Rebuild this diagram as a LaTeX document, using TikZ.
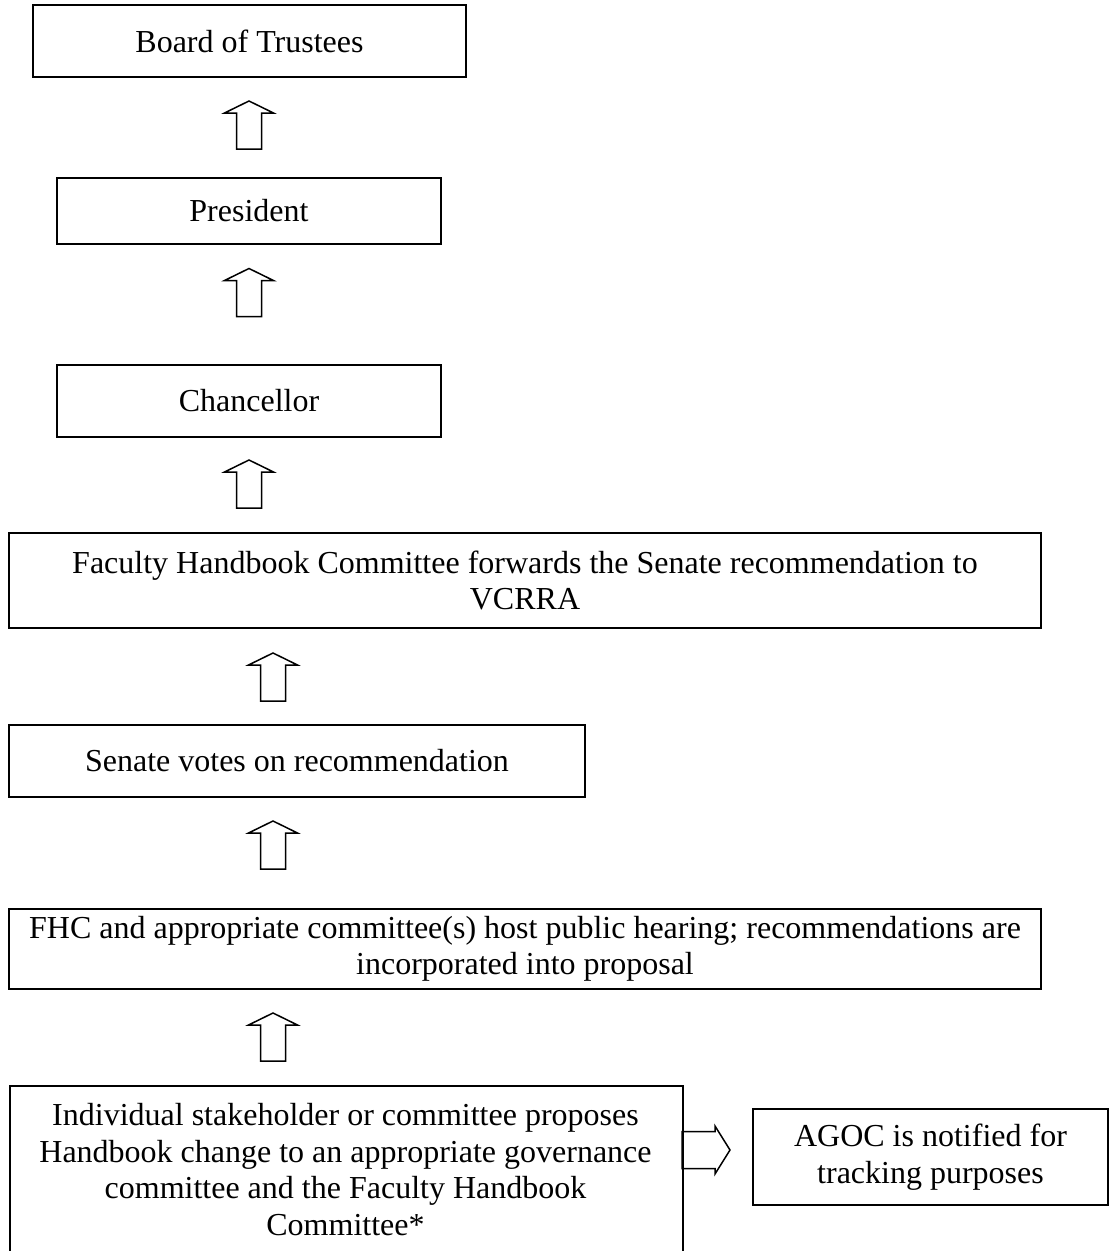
\documentclass[tikz,border=0pt]{standalone}
\usepackage{fontspec}
\setmainfont{Liberation Serif}
\begin{document}
\begin{tikzpicture}[x=1pt,y=-1pt,
  box/.style={draw, line width=1.6pt, inner sep=0pt, align=center,
    font=\fontsize{32}{36.5}\selectfont},
  arrline/.style={draw, line width=1.5pt, line join=miter},
  txt/.style={inner sep=0pt, align=center, font=\fontsize{32}{36.7}\selectfont},
  uparr/.pic={
    \path[arrline] (-12.5,24) -- (-12.5,-12) -- (-24.5,-12) -- (0,-24)
      -- (24.5,-12) -- (12.5,-12) -- (12.5,24) -- cycle;
    \coordinate (-tip) at (0,-24);
    \coordinate (-tail) at (0,24);
  },
  rightarr/.pic={
    \path[arrline] (-24,-18.5) -- (9,-18.5) -- (9,-24) -- (24,0)
      -- (9,24) -- (9,18.5) -- (-24,18.5) -- cycle;
    \coordinate (-tip) at (24,0);
    \coordinate (-tail) at (-24,0);
  }]
\useasboundingbox (0,0) rectangle (1109,1251);
\clip (0,0) rectangle (1109,1251);

\node[box, minimum width=433pt, minimum height=72pt] (bot) at (249.5,41) {Board of Trustees};
\node[box, minimum width=384pt, minimum height=66pt] (pres) at (249,211) {President};
\node[box, minimum width=384pt, minimum height=72pt] (chan) at (249,401) {Chancellor};
\node[box, minimum width=1032pt, minimum height=95pt] (fhc) at (525,580.5)
  {Faculty Handbook Committee forwards the Senate recommendation to\\VCRRA};
\node[box, minimum width=576pt, minimum height=72pt] (sen) at (297,761) {Senate votes on recommendation};
\node[box, minimum width=1032pt, minimum height=80pt] (hear) at (525,949)
  {FHC and appropriate committee(s) host public hearing; recommendations are\\incorporated into proposal};
\node[box, minimum width=673pt, minimum height=220pt, anchor=north west] (prop) at (9,1085) {};
\node[txt, anchor=north] (proptext) at (345.5,1103)
  {Individual stakeholder or committee proposes\\Handbook change to an appropriate governance\\committee and the Faculty Handbook\\Committee*};
\node[box, minimum width=355pt, minimum height=96pt] (agoc) at (930.5,1157)
  {AGOC is notified for\\tracking purposes};

\pic (a1) at (249,125) {uparr};
\pic (a2) at (249,292.5) {uparr};
\pic (a3) at (249,484) {uparr};
\pic (a4) at (273,677) {uparr};
\pic (a5) at (273,845) {uparr};
\pic (a6) at (273,1037) {uparr};
\pic (a7) at (706,1150) {rightarr};
\end{tikzpicture}
\end{document}
